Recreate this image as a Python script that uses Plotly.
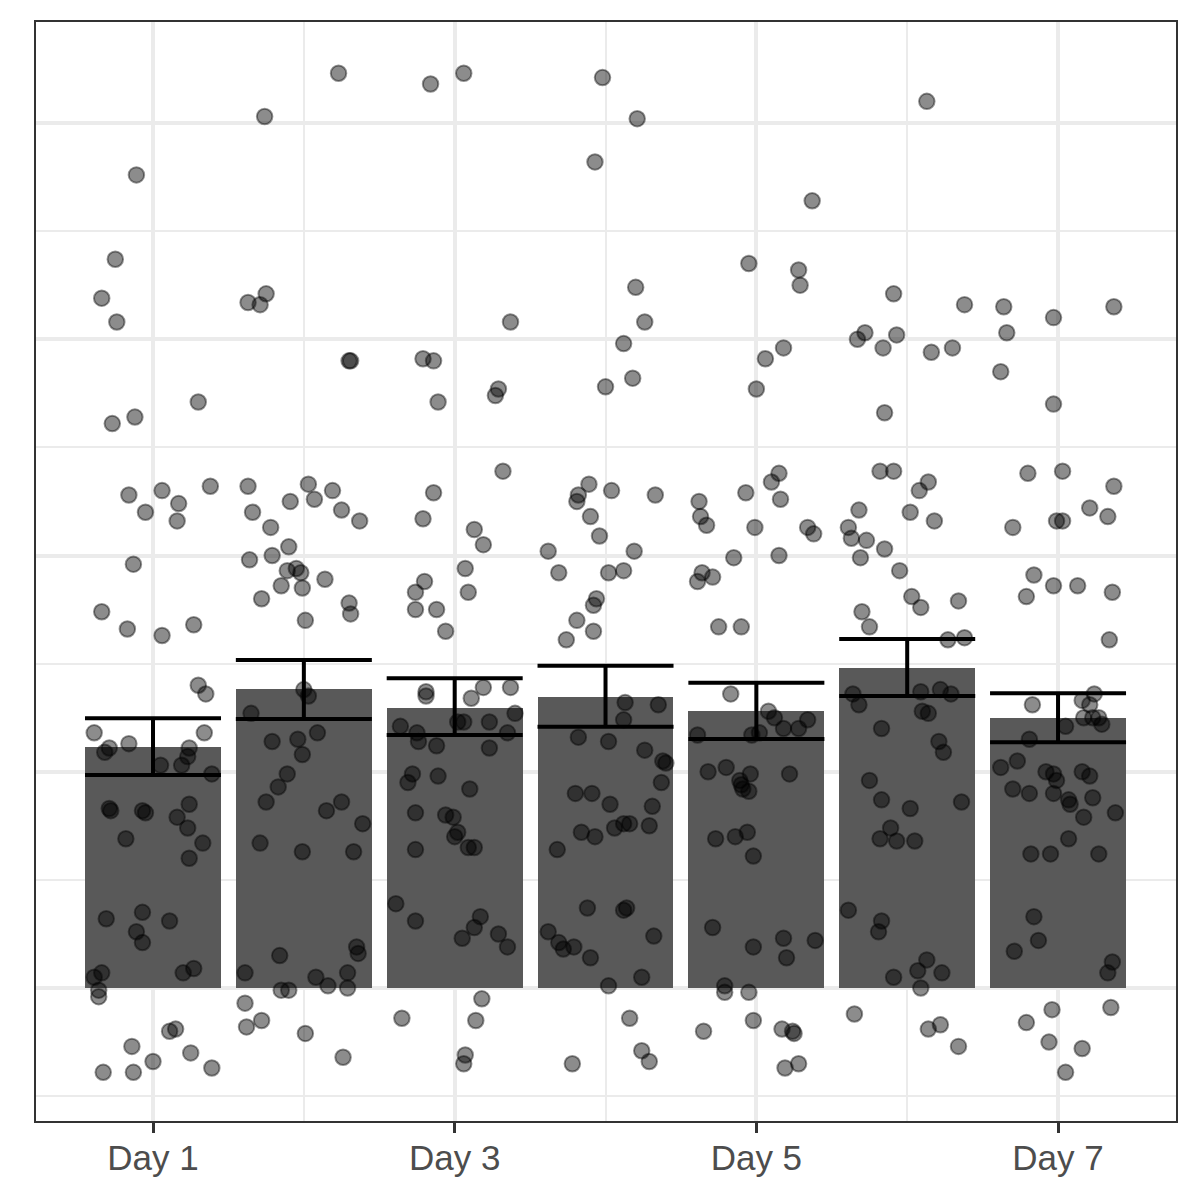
import plotly.graph_objects as go

# ---------------- data ----------------
days = ["Day 1", "Day 2", "Day 3", "Day 4", "Day 5", "Day 6", "Day 7"]
day_pos = [1, 2, 3, 4, 5, 6, 7]
tick_days = [1, 3, 5, 7]
tick_labels = ["Day 1", "Day 3", "Day 5", "Day 7"]

bar_means = [11.13, 13.81, 12.97, 13.47, 12.80, 14.81, 12.47]
ci_high = [12.47, 15.17, 14.32, 14.90, 14.12, 16.14, 13.63]
ci_low = [9.85, 12.44, 11.70, 12.08, 11.51, 13.50, 11.36]

day1_jitter = [-0.11, -0.25, -0.34, -0.24, -0.27, -0.12, 0.30, -0.16, 0.06, -0.05, 0.17, 0.16, 0.38, -0.13, -0.34,
               -0.17, 0.06, 0.27, 0.30, 0.35, -0.39, -0.29, -0.32, -0.16, 0.34, 0.24, 0.23, 0.19, 0.05, 0.39, -0.29,
               -0.28, -0.07, -0.05, 0.24, 0.16, 0.23, 0.33, -0.18, 0.24, -0.31, -0.07, 0.11, -0.11, -0.07, -0.39,
               -0.34, -0.36, -0.36, 0.20, 0.27, 0.11, 0.15, -0.14, 0.00, 0.25, -0.33, -0.13, 0.39]
day1_values = [37.6, 33.7, 31.9, 30.8, 26.1, 26.4, 27.1, 22.8, 23.0, 22.0, 22.4, 21.6, 23.2, 19.6, 17.4, 16.6, 16.3,
               16.8, 14.0, 13.6, 11.8, 11.1, 10.9, 11.3, 11.8, 11.1, 10.7, 10.3, 10.3, 9.9, 8.3, 8.2, 8.2, 8.1, 8.5,
               7.9, 7.4, 6.7, 6.9, 6.0, 3.2, 3.5, 3.1, 2.6, 2.1, 0.5, 0.7, -0.1, -0.4, 0.7, 0.9, -2.0, -1.9, -2.7,
               -3.4, -3.0, -3.9, -3.9, -3.7]

day2_jitter = [-0.26, 0.23, -0.37, -0.29, -0.25, 0.30, 0.31, -0.37, -0.34, -0.22, -0.09, 0.03, 0.07, 0.19, 0.25,
               0.37, -0.36, -0.21, -0.10, -0.11, -0.05, -0.02, -0.15, -0.01, 0.14, -0.28, 0.01, 0.30, 0.31, 0.00,
               0.03, -0.35, -0.21, -0.04, 0.09, -0.01, -0.11, -0.17, -0.25, 0.15, -0.29, -0.01, 0.25, 0.39, 0.33,
               -0.16, -0.39, 0.08, 0.16, -0.15, -0.10, -0.39, -0.28, -0.38, 0.01, 0.26, 0.35, 0.36, 0.29, 0.29]
day2_values = [40.3, 42.3, 31.7, 31.6, 32.1, 29.0, 29.0, 23.2, 22.0, 21.3, 22.5, 23.3, 22.6, 23.0, 22.1, 21.6, 19.8,
               20.0, 20.4, 19.3, 19.4, 19.2, 18.6, 18.5, 18.9, 18.0, 17.0, 17.8, 17.3, 13.8, 13.5, 12.7, 11.4, 11.5,
               11.8, 10.8, 9.9, 9.3, 8.6, 8.2, 6.7, 6.3, 8.6, 7.6, 6.3, 1.5, 0.7, 0.5, 0.1, -0.1, -0.1, -0.7, -1.5,
               -1.8, -2.1, -3.2, 1.9, 1.6, 0.7, 0.0]

day3_jitter = [-0.16, 0.06, 0.37, -0.21, -0.14, 0.29, 0.27, -0.11, -0.14, -0.21, 0.32, 0.13, 0.19, -0.20, -0.26,
               -0.26, -0.12, -0.06, 0.07, 0.09, -0.19, -0.19, 0.19, 0.37, 0.11, 0.40, -0.36, -0.25, -0.24, -0.12,
               0.02, 0.06, 0.23, 0.35, 0.23, -0.28, -0.31, -0.11, 0.10, -0.26, -0.06, -0.01, 0.02, 0.00, 0.09, 0.13,
               -0.26, -0.39, -0.26, 0.17, 0.13, 0.05, 0.29, 0.35, 0.18, -0.35, 0.14, 0.07, 0.06]
day3_values = [41.8, 42.3, 30.8, 29.1, 29.0, 27.7, 27.4, 27.1, 22.9, 21.7, 23.9, 21.2, 20.5, 18.8, 18.3, 17.5, 17.5,
               16.5, 19.4, 18.3, 13.7, 13.5, 13.9, 13.9, 13.4, 12.7, 12.1, 11.8, 11.4, 11.2, 12.3, 12.3, 12.3, 11.8,
               11.1, 9.9, 9.5, 9.8, 9.2, 8.1, 8.0, 7.9, 7.2, 7.0, 6.5, 6.5, 6.4, 3.9, 3.1, 3.3, 2.8, 2.3, 2.5, 1.9,
               -0.5, -1.4, -1.5, -3.1, -3.5]

day4_jitter = [-0.02, 0.21, -0.07, 0.20, 0.26, 0.12, 0.18, 0.00, 0.33, -0.11, -0.18, -0.19, 0.04, -0.10, -0.04,
               -0.38, 0.19, -0.31, 0.02, 0.12, -0.06, -0.08, -0.19, -0.26, -0.08, 0.13, 0.12, -0.18, 0.02, 0.35,
               0.26, 0.38, 0.40, 0.37, 0.31, 0.29, -0.20, -0.09, 0.03, -0.16, -0.07, 0.06, 0.12, 0.16, -0.32, -0.12,
               0.12, 0.14, -0.38, -0.31, -0.28, -0.21, -0.10, 0.02, 0.24, 0.32, 0.16, 0.24, 0.29, -0.22]
day4_values = [42.1, 40.2, 38.2, 32.4, 30.8, 29.8, 28.2, 27.8, 22.8, 23.3, 22.8, 22.5, 23.0, 21.8, 20.9, 20.2, 20.2,
               19.2, 19.2, 19.3, 18.0, 17.7, 17.0, 16.1, 16.5, 13.2, 12.4, 11.6, 11.4, 13.1, 11.0, 10.5, 10.4, 9.5,
               8.4, 7.5, 9.0, 9.0, 8.5, 7.2, 7.0, 7.4, 7.6, 7.6, 6.4, 3.7, 3.6, 3.7, 2.6, 2.1, 1.8, 1.9, 1.4, 0.1,
               0.5, 2.4, -1.4, -2.9, -3.4, -3.5]

day5_jitter = [-0.05, 0.28, 0.29, 0.37, 0.06, 0.18, 0.00, -0.38, -0.37, -0.33, -0.07, 0.10, 0.15, 0.16, -0.01, 0.34,
               0.38, -0.15, 0.15, -0.36, -0.39, -0.29, -0.25, -0.10, -0.17, 0.08, 0.12, 0.18, 0.28, 0.34, -0.39,
               -0.03, 0.02, -0.32, -0.20, -0.11, -0.10, -0.09, -0.05, -0.04, 0.22, -0.27, -0.14, -0.06, -0.02, -0.29,
               -0.02, 0.18, 0.20, 0.39, -0.21, -0.21, -0.05, -0.35, -0.02, 0.17, 0.24, 0.25, 0.19, 0.28]
day5_values = [33.5, 33.2, 32.5, 36.4, 29.1, 29.6, 27.7, 22.5, 21.8, 21.4, 22.9, 23.4, 23.8, 22.6, 21.3, 21.3, 21.0,
               19.9, 20.0, 19.2, 18.8, 19.0, 16.7, 16.7, 13.6, 12.8, 12.5, 12.0, 12.0, 12.4, 11.7, 11.7, 11.8, 10.0,
               10.2, 9.6, 9.4, 9.2, 9.1, 9.9, 9.9, 6.9, 7.0, 7.2, 6.1, 2.8, 1.9, 2.3, 1.4, 2.2, 0.1, -0.2, -0.2,
               -2.0, -1.5, -1.9, -2.0, -2.1, -3.7, -3.5]

day6_jitter = [0.13, -0.09, -0.33, -0.28, -0.16, -0.07, 0.16, 0.30, 0.38, -0.15, -0.18, -0.09, 0.08, 0.14, 0.02,
               0.18, -0.32, -0.39, -0.37, -0.27, -0.31, -0.15, -0.05, 0.03, 0.09, -0.30, -0.25, 0.34, 0.27, 0.38,
               -0.36, -0.32, 0.09, 0.22, 0.29, 0.10, 0.14, -0.17, 0.21, 0.24, -0.25, -0.17, 0.02, -0.11, -0.18,
               -0.07, 0.05, 0.36, -0.39, -0.17, -0.19, 0.13, 0.07, -0.09, 0.09, 0.23, -0.35, 0.14, 0.22, 0.34]
day6_values = [41.0, 32.1, 30.0, 30.3, 29.6, 30.2, 29.4, 29.6, 31.6, 26.6, 23.9, 23.9, 23.0, 23.4, 22.0, 21.6, 22.1,
               21.3, 20.8, 20.7, 19.9, 20.3, 19.3, 18.1, 17.6, 17.4, 16.7, 17.9, 16.1, 16.2, 13.6, 13.1, 13.7, 13.8,
               13.6, 12.8, 12.7, 12.0, 11.4, 10.9, 9.6, 8.7, 8.3, 7.4, 6.9, 6.8, 6.8, 8.6, 3.6, 3.1, 2.6, 1.3, 0.8,
               0.5, 0.0, 0.7, -1.2, -1.9, -1.7, -2.7]

day7_jitter = [-0.36, -0.03, 0.37, -0.34, -0.38, -0.03, -0.20, 0.03, 0.37, 0.21, 0.33, -0.30, -0.01, 0.03, -0.16,
               -0.03, 0.13, -0.21, 0.36, 0.34, -0.17, 0.24, 0.16, 0.21, 0.17, 0.23, 0.27, 0.29, 0.05, -0.19, -0.27,
               -0.38, -0.08, -0.03, -0.01, 0.16, 0.21, -0.30, -0.19, -0.03, 0.23, 0.07, 0.08, 0.17, 0.38, 0.07,
               -0.18, -0.05, 0.27, -0.16, -0.13, -0.29, 0.36, 0.33, -0.04, -0.21, 0.35, -0.06, 0.16, 0.05]
day7_values = [31.5, 31.0, 31.5, 30.3, 28.5, 27.0, 23.8, 23.9, 23.2, 22.2, 21.8, 21.3, 21.6, 21.6, 19.1, 18.6, 18.6,
               18.1, 18.3, 16.1, 13.1, 13.6, 13.3, 13.1, 12.5, 12.5, 12.5, 12.2, 12.1, 11.5, 10.5, 10.2, 10.0, 9.9,
               9.6, 10.0, 9.8, 9.2, 9.0, 9.0, 8.8, 8.7, 8.5, 7.9, 8.1, 6.9, 6.2, 6.2, 6.2, 3.3, 2.2, 1.7, 1.2, 0.7,
               -1.0, -1.6, -0.9, -2.5, -2.8, -3.9]

# ---------------- build ----------------
all_jitter = [day1_jitter, day2_jitter, day3_jitter, day4_jitter, day5_jitter, day6_jitter, day7_jitter]
all_values = [day1_values, day2_values, day3_values, day4_values, day5_values, day6_values, day7_values]

px_list, py_list = [], []
for pos, jit, vals in zip(day_pos, all_jitter, all_values):
    for j, v in zip(jit, vals):
        px_list.append(pos + j)
        py_list.append(v)

fig = go.Figure()

fig.add_trace(go.Bar(
    x=day_pos, y=bar_means, width=0.9,
    marker=dict(color="#595959", line=dict(width=0)),
    hoverinfo="skip", showlegend=False,
))

fig.add_trace(go.Scatter(
    x=px_list, y=py_list, mode="markers",
    marker=dict(size=15.5, color="rgba(0,0,0,0.45)",
                line=dict(color="rgba(0,0,0,0.42)", width=2)),
    hoverinfo="skip", showlegend=False,
))

fig.add_trace(go.Scatter(
    x=day_pos, y=bar_means, mode="markers",
    marker=dict(size=1, color="rgba(0,0,0,0)"),
    error_y=dict(type="data", symmetric=False,
                 array=[h - m for h, m in zip(ci_high, bar_means)],
                 arrayminus=[m - l for m, l in zip(bar_means, ci_low)],
                 color="black", thickness=4, width=68),
    hoverinfo="skip", showlegend=False,
))

grid_major = "#ebebeb"
fig.update_layout(
    width=1200, height=1200,
    margin=dict(l=36, r=24, t=22, b=79),
    paper_bgcolor="white", plot_bgcolor="white",
    font=dict(family="Liberation Sans, Arial, sans-serif"),
    showlegend=False,
    bargap=0,
)
fig.update_xaxes(
    range=[0.2243, 7.782], tickmode="array", tickvals=tick_days, ticktext=tick_labels,
    showgrid=True, gridcolor=grid_major, gridwidth=3.6,
    minor=dict(tickmode="array", tickvals=[2, 4, 6], showgrid=True, gridcolor=grid_major, gridwidth=1.8),
    showline=True, linecolor="#333333", linewidth=2, mirror=True,
    ticks="outside", ticklen=10, tickwidth=2.5, tickcolor="#333333",
    ticklabelstandoff=-5,
    tickfont=dict(size=35, color="#4d4d4d", family="Liberation Sans, Arial, sans-serif"),
    zeroline=False,
)
fig.update_yaxes(
    range=[-6.15, 44.67], tick0=0, dtick=10, showticklabels=False, ticks="",
    showgrid=True, gridcolor=grid_major, gridwidth=3.6,
    minor=dict(tick0=5, dtick=10, showgrid=True, gridcolor=grid_major, gridwidth=1.8),
    showline=True, linecolor="#333333", linewidth=2, mirror=True,
    zeroline=False,
)

fig.write_html("out.html")
